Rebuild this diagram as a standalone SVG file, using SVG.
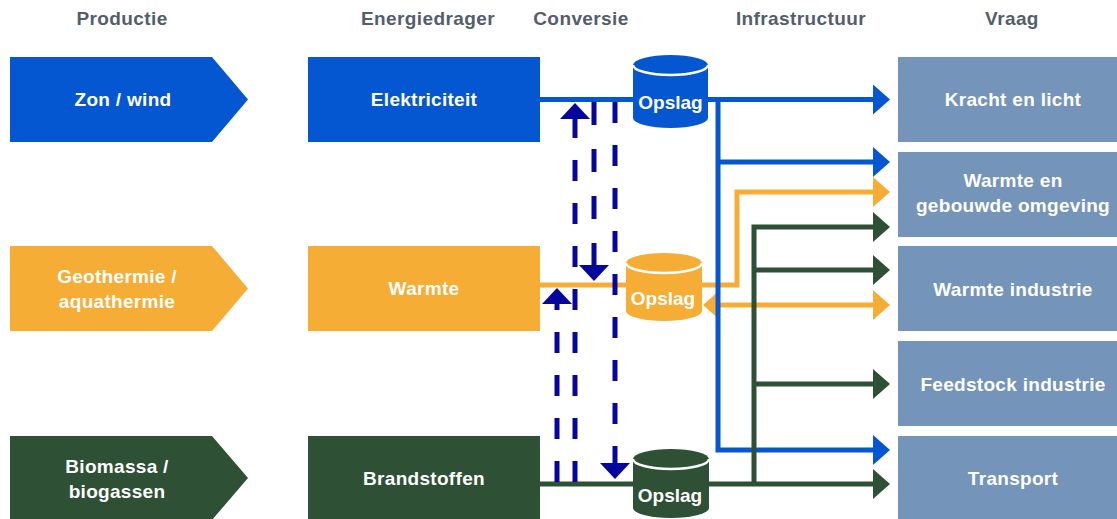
<svg xmlns="http://www.w3.org/2000/svg" width="1117" height="519" viewBox="0 0 1117 519">
<style>
.hdr{font-family:"Liberation Sans",Arial,sans-serif;font-weight:bold;font-size:19px;letter-spacing:0.4px;fill:#545E6A;text-anchor:middle}
.lbl{font-family:"Liberation Sans",Arial,sans-serif;font-weight:bold;font-size:19px;letter-spacing:0.3px;fill:#ffffff;text-anchor:middle}
.cyl{font-family:"Liberation Sans",Arial,sans-serif;font-weight:bold;font-size:19px;fill:#ffffff;text-anchor:middle}
.blue{fill:#0456D1}.orange{fill:#F6AD36}.green{fill:#2E5034}.demand{fill:#7594BA}
.cb{fill:none;stroke:#0456D1;stroke-width:5}
.co{fill:none;stroke:#F6AD36;stroke-width:5}
.cg{fill:none;stroke:#2E5034;stroke-width:5}
.cn{fill:none;stroke:#06069E;stroke-width:5;stroke-dasharray:21 22}
.lid{fill:none;stroke:#ffffff;stroke-width:2.5}
</style>
<defs>
<marker id="ab" markerUnits="userSpaceOnUse" markerWidth="17" markerHeight="30" refX="1" refY="15" orient="auto-start-reverse" overflow="visible"><path d="M0,0 L17,15 L0,30 Z" fill="#0456D1"/></marker>
<marker id="ao" markerUnits="userSpaceOnUse" markerWidth="17" markerHeight="30" refX="1" refY="15" orient="auto-start-reverse" overflow="visible"><path d="M0,0 L17,15 L0,30 Z" fill="#F6AD36"/></marker>
<marker id="ag" markerUnits="userSpaceOnUse" markerWidth="17" markerHeight="30" refX="1" refY="15" orient="auto-start-reverse" overflow="visible"><path d="M0,0 L17,15 L0,30 Z" fill="#2E5034"/></marker>
<marker id="an" markerUnits="userSpaceOnUse" markerWidth="16" markerHeight="30" refX="0" refY="15" orient="auto" overflow="visible"><path d="M0,0 L16,15 L0,30 Z" fill="#06069E"/></marker>
</defs>
<rect width="1117" height="519" fill="#ffffff"/>
<g id="headers">
<text class="hdr" x="122" y="25">Productie</text>
<text class="hdr" x="428" y="25">Energiedrager</text>
<text class="hdr" x="581" y="25">Conversie</text>
<text class="hdr" x="801" y="25">Infrastructuur</text>
<text class="hdr" x="1012" y="25">Vraag</text>
</g>
<g id="prod-zon"><polygon class="blue" points="10,57 212,57 248,99.5 212,142 10,142"/><text class="lbl" x="123" y="106">Zon / wind</text></g>
<g id="prod-geo"><polygon class="orange" points="10,246 212,246 248,288.5 212,331 10,331"/><text class="lbl" x="117" y="283">Geothermie /</text><text class="lbl" x="117" y="308">aquathermie</text></g>
<g id="prod-bio"><polygon class="green" points="10,436 212,436 248,478 212,520 10,520"/><text class="lbl" x="117" y="473">Biomassa /</text><text class="lbl" x="117" y="498">biogassen</text></g>
<g id="drager-elek"><rect class="blue" x="308" y="57" width="232" height="85"/><text class="lbl" x="424" y="106">Elektriciteit</text></g>
<g id="drager-warmte"><rect class="orange" x="308" y="246" width="232" height="85"/><text class="lbl" x="424" y="295">Warmte</text></g>
<g id="drager-brand"><rect class="green" x="308" y="436" width="232" height="84"/><text class="lbl" x="424" y="485">Brandstoffen</text></g>
<g id="vraag-kracht"><rect class="demand" x="898" y="57" width="219" height="85"/><text class="lbl" x="1013" y="106">Kracht en licht</text></g>
<g id="vraag-gebouwd"><rect class="demand" x="898" y="152" width="219" height="85"/><text class="lbl" x="1013" y="187">Warmte en</text><text class="lbl" x="1013" y="212">gebouwde omgeving</text></g>
<g id="vraag-warmte-ind"><rect class="demand" x="898" y="246" width="219" height="85"/><text class="lbl" x="1013" y="296">Warmte industrie</text></g>
<g id="vraag-feedstock"><rect class="demand" x="898" y="341" width="219" height="85"/><text class="lbl" x="1013" y="391">Feedstock industrie</text></g>
<g id="vraag-transport"><rect class="demand" x="898" y="436" width="219" height="84"/><text class="lbl" x="1013" y="485">Transport</text></g>
<g id="connectors">
<path class="co" d="M540,285 H737 V192 H874" marker-end="url(#ao)"/>
<path class="co" d="M719,305 H874" marker-start="url(#ao)" marker-end="url(#ao)"/>
<path class="cb" d="M540,99.5 H874" marker-end="url(#ab)"/>
<path class="cb" d="M718,99.5 V450 H874" marker-end="url(#ab)"/>
<path class="cb" d="M718,162 H874" marker-end="url(#ab)"/>
<path class="cg" d="M540,484 H874" marker-end="url(#ag)"/>
<path class="cg" d="M754,484 V227 H874" marker-end="url(#ag)"/>
<path class="cg" d="M754,270 H874" marker-end="url(#ag)"/>
<path class="cg" d="M754,384 H874" marker-end="url(#ag)"/>
<path class="cn" d="M575,482 V119" marker-end="url(#an)"/>
<path class="cn" d="M557,482 V304" marker-end="url(#an)"/>
<path class="cn" d="M594,102 V265" style="stroke-dasharray:23 24" marker-end="url(#an)"/>
<path class="cn" d="M615,102 V463" marker-end="url(#an)"/>
</g>
<g id="opslag-elek"><path class="blue" d="M633,65 A37.5,10 0 0 1 708,65 V118 A37.5,10 0 0 1 633,118 Z"/><path class="lid" d="M633,65 A37.5,10 0 0 0 708,65"/><text class="cyl" x="670.5" y="109">Opslag</text></g>
<g id="opslag-warmte"><path class="orange" d="M626,263 A38,10 0 0 1 702,263 V311 A38,10 0 0 1 626,311 Z"/><path class="lid" d="M626,263 A38,10 0 0 0 702,263"/><text class="cyl" x="663" y="305">Opslag</text></g>
<g id="opslag-brand"><path class="green" d="M633,459 A38,10 0 0 1 709,459 V508 A38,10 0 0 1 633,508 Z"/><path class="lid" d="M633,459 A38,10 0 0 0 709,459"/><text class="cyl" x="670" y="502">Opslag</text></g>
</svg>
